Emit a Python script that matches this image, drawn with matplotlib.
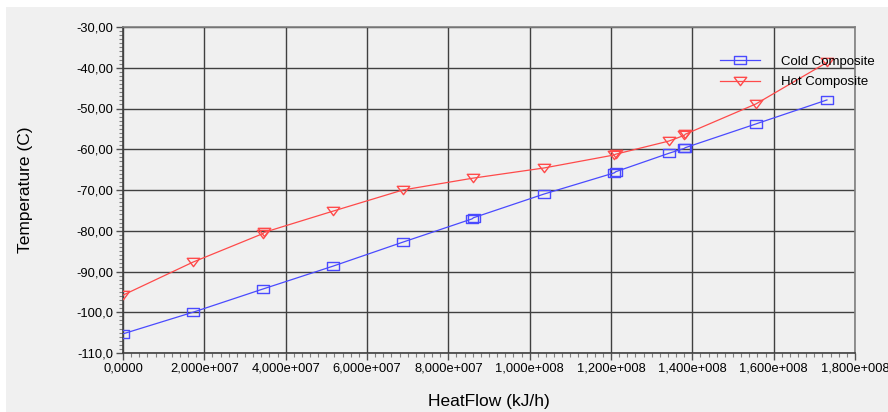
import numpy as np
import matplotlib
matplotlib.use("Agg")
import matplotlib.pyplot as plt
from matplotlib.patches import Rectangle
from matplotlib.path import Path
from matplotlib.ticker import MultipleLocator

# composite curve data
cold_q = [0.0, 1.72e7, 3.44e7, 5.16e7, 6.88e7, 8.58e7, 8.62e7, 1.035e8,
          1.208e8, 1.212e8, 1.342e8, 1.38e8, 1.383e8, 1.556e8, 1.731e8]
cold_t = [-105.3, -100.0, -94.3, -88.7, -82.8, -77.1, -76.8, -71.0,
          -65.8, -65.5, -61.0, -59.8, -59.6, -53.8, -47.9]
hot_q = [0.0, 1.72e7, 3.44e7, 3.47e7, 5.16e7, 6.88e7, 8.6e7, 1.035e8,
         1.208e8, 1.212e8, 1.342e8, 1.38e8, 1.383e8, 1.556e8, 1.731e8]
hot_t = [-95.8, -87.7, -80.7, -80.4, -75.2, -70.0, -67.1, -64.6,
         -61.4, -61.2, -58.0, -56.6, -56.3, -48.9, -38.7]

y_ticks = [-110, -100, -90, -80, -70, -60, -50, -40, -30]
y_labels = ["-110,0", "-100,0", "-90,00", "-80,00", "-70,00",
            "-60,00", "-50,00", "-40,00", "-30,00"]
x_ticks = [0, 2e7, 4e7, 6e7, 8e7, 1e8, 1.2e8, 1.4e8, 1.6e8, 1.8e8]
x_labels = ["0,0000", "2,000e+007", "4,000e+007", "6,000e+007", "8,000e+007",
            "1,000e+008", "1,200e+008", "1,400e+008", "1,600e+008", "1,800e+008"]

plt.rcParams['font.family'] = ['Liberation Sans', 'DejaVu Sans']

W, H = 888, 412
fig = plt.figure(figsize=(W / 100, H / 100), dpi=100, facecolor='white')
fig.patches.append(Rectangle((6 / W, 0), 1, (H - 7) / H, transform=fig.transFigure,
                             facecolor='#f0f0f0', edgecolor='none', zorder=-10))

ax = fig.add_axes([123 / W, 59 / H, 732 / W, 326 / H])
ax.set_facecolor('#f0f0f0')

# wide box and flat down-triangle like the original markers
box = Path([(-1.5, -1), (1.5, -1), (1.5, 1), (-1.5, 1), (-1.5, -1)],
           [Path.MOVETO, Path.LINETO, Path.LINETO, Path.LINETO, Path.CLOSEPOLY])
tri = Path([(-1.5, 1), (1.5, 1), (0, -1), (-1.5, 1)],
           [Path.MOVETO, Path.LINETO, Path.LINETO, Path.CLOSEPOLY])

blue = '#4a4aff'
red = '#ff4a4a'
ax.plot(cold_q, cold_t, color=blue, lw=0.9, marker=box, ms=9, mfc='none',
        mec=blue, mew=1.0, label='Cold Composite', zorder=3)
ax.plot(hot_q, hot_t, color=red, lw=0.9, marker=tri, ms=9, mfc='none',
        mec=red, mew=1.0, label='Hot Composite', zorder=3)

ax.set_xlim(0, 1.8e8)
ax.set_ylim(-110, -30)
ax.set_xticks(x_ticks)
ax.set_xticklabels(x_labels)
ax.set_yticks(y_ticks)
ax.set_yticklabels(y_labels)
ax.xaxis.set_minor_locator(MultipleLocator(2e6))
ax.yaxis.set_minor_locator(MultipleLocator(1))
ax.tick_params(which='major', length=5, width=1, color='#505050', labelsize=9.3, pad=2)
ax.tick_params(which='minor', length=3, width=0.8, color='#808080')

ax.grid(True, which='major', color='#404040', lw=1.0)
for side in ['left', 'bottom']:
    ax.spines[side].set_color('#404040')
    ax.spines[side].set_linewidth(1.2)
for side in ['top', 'right']:
    ax.spines[side].set_color('#808080')
    ax.spines[side].set_linewidth(1.2)

ax.set_xlabel('HeatFlow (kJ/h)', fontsize=12.5, labelpad=14)
ax.set_ylabel('Temperature (C)', fontsize=12.5, labelpad=31)

ax.legend(loc='upper left', bbox_to_anchor=(0.80, 0.948), frameon=False,
          fontsize=9.5, handlelength=3.0, handletextpad=1.6, labelspacing=0.6)

fig.savefig('out.png', dpi=100, facecolor=fig.get_facecolor())
